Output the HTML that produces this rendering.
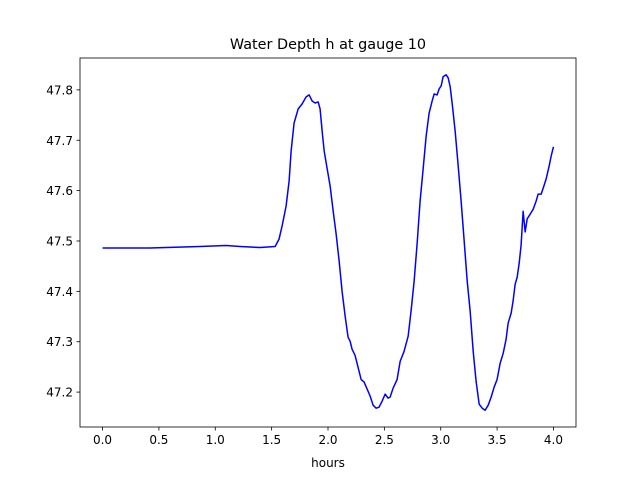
<!DOCTYPE html>
<html><head><meta charset="utf-8">
<style>
body{margin:0;background:#fff;}
svg{display:block;font-family:"DejaVu Sans","Liberation Sans",sans-serif;}
</style></head>
<body>
<svg id="chart" width="640" height="480" viewBox="0 0 640 480" xmlns="http://www.w3.org/2000/svg">
<rect width="640" height="480" fill="#fff"/>
<text x="328" y="49" text-anchor="middle" font-size="14.4">Water Depth h at gauge 10</text>
<g id="plot"></g>
<text x="328" y="467" text-anchor="middle" font-size="12">hours</text>
</svg>
<script>
const hours=[0.0,0.421,0.865,1.096,1.220,1.398,1.531,1.566,1.593,1.628,1.655,1.673,1.699,1.735,1.770,1.806,1.833,1.859,1.886,1.913,1.930,1.948,1.966,1.993,2.019,2.046,2.072,2.099,2.125,2.152,2.178,2.196,2.214,2.240,2.267,2.294,2.320,2.347,2.374,2.400,2.427,2.453,2.480,2.507,2.533,2.551,2.578,2.613,2.640,2.675,2.711,2.737,2.764,2.791,2.817,2.844,2.871,2.897,2.924,2.942,2.968,2.986,3.004,3.021,3.048,3.066,3.084,3.102,3.128,3.155,3.181,3.208,3.235,3.261,3.288,3.314,3.341,3.368,3.394,3.421,3.447,3.474,3.500,3.527,3.554,3.580,3.598,3.625,3.642,3.660,3.678,3.696,3.713,3.731,3.749,3.767,3.793,3.820,3.846,3.864,3.891,3.909,3.935,3.962,3.980,4.0];
const depth=[47.486,47.486,47.489,47.491,47.489,47.487,47.489,47.504,47.530,47.569,47.619,47.679,47.734,47.762,47.772,47.786,47.790,47.778,47.774,47.776,47.762,47.718,47.679,47.643,47.609,47.559,47.514,47.460,47.400,47.351,47.309,47.301,47.285,47.273,47.249,47.225,47.220,47.206,47.192,47.174,47.168,47.170,47.182,47.196,47.188,47.190,47.208,47.225,47.261,47.281,47.311,47.361,47.420,47.496,47.579,47.643,47.709,47.754,47.778,47.792,47.790,47.802,47.808,47.826,47.830,47.824,47.806,47.772,47.718,47.649,47.579,47.500,47.420,47.361,47.281,47.221,47.176,47.168,47.164,47.174,47.190,47.210,47.225,47.257,47.277,47.305,47.337,47.357,47.381,47.414,47.428,47.456,47.492,47.559,47.518,47.544,47.553,47.563,47.579,47.593,47.593,47.605,47.623,47.649,47.669,47.687];
const xTicks=[0,0.5,1,1.5,2,2.5,3,3.5,4];
const xTickLabels=["0.0","0.5","1.0","1.5","2.0","2.5","3.0","3.5","4.0"];
const yTicks=[47.2,47.3,47.4,47.5,47.6,47.7,47.8];
const yTickLabels=["47.2","47.3","47.4","47.5","47.6","47.7","47.8"];

const L=80,R=576,T=58,B=427;
const xmin=-0.2,xmax=4.2;
const dmin=Math.min(...depth),dmax=Math.max(...depth),pad=(dmax-dmin)*0.05;
const ymin=dmin-pad,ymax=dmax+pad;
const sx=v=>L+(v-xmin)/(xmax-xmin)*(R-L);
const sy=v=>B-(v-ymin)/(ymax-ymin)*(B-T);
const NS="http://www.w3.org/2000/svg";
const g=document.getElementById('plot');
function mk(tag,attrs){const e=document.createElementNS(NS,tag);for(const k in attrs)e.setAttribute(k,attrs[k]);g.appendChild(e);return e;}

let d=hours.map((h,i)=>(i?'L':'M')+sx(h).toFixed(2)+','+sy(depth[i]).toFixed(2)).join(' ');
const line=mk('path',{d:d,fill:'none',stroke:'#0000ff','stroke-width':1.5,'stroke-linejoin':'round'});



const frame=mk('rect',{x:L,y:T,width:R-L,height:B-T,fill:'none',stroke:'#000','stroke-width':0.8});



xTicks.forEach((t,i)=>{
  const x=sx(t);
  const tk=mk('line',{x1:x,x2:x,y1:B,y2:B+3.5,stroke:'#000','stroke-width':0.8});
  
  
  const tx=mk('text',{x:x,y:B+17,'text-anchor':'middle','font-size':12});
  tx.textContent=xTickLabels[i];
  
  
});
yTicks.forEach((t,i)=>{
  const y=sy(t);
  const tk=mk('line',{x1:L-3.5,x2:L,y1:y,y2:y,stroke:'#000','stroke-width':0.8});
  
  
  const tx=mk('text',{x:L-7,y:y+4.5,'text-anchor':'end','font-size':12});
  tx.textContent=yTickLabels[i];
  
  
});
</script>
</body></html>
